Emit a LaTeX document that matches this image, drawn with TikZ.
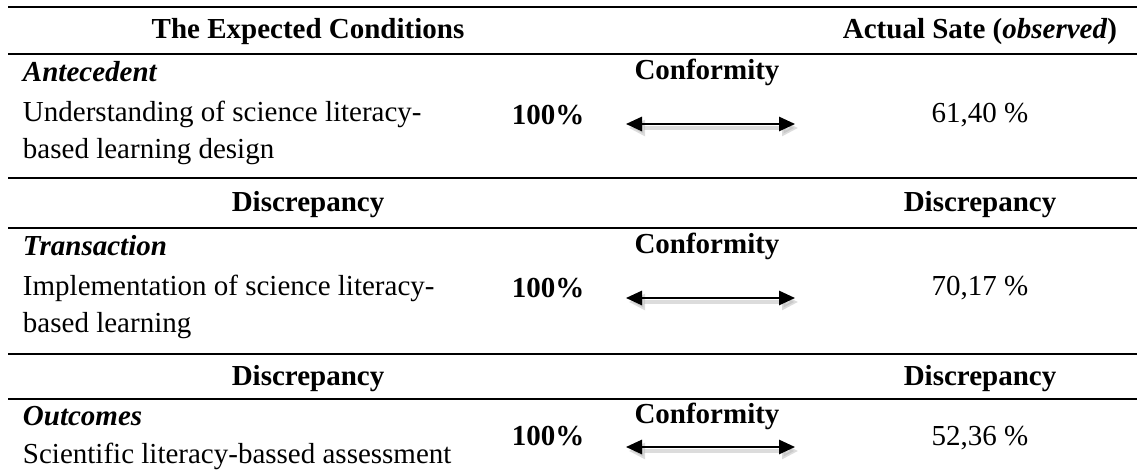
\documentclass[tikz,border=0pt]{standalone}
\usepackage{fontspec}
\setmainfont{Liberation Serif}
\usetikzlibrary{arrows.meta}
\begin{document}
\begin{tikzpicture}[x=0.35pt,y=-0.35pt,
  txt/.style={inner sep=0pt,outer sep=0pt,font=\fontsize{10.15}{12}\selectfont},
  lft/.style={txt,anchor=base west},
  ctr/.style={txt,anchor=base},
  rulel/.style={line width=0.8pt,black},
  conf/.style={line width=0.7pt,black,{Triangle[length=5.6pt,width=5pt]}-{Triangle[length=5.6pt,width=5pt]}},
  confshadow/.style={line width=1.2pt,black!30,opacity=0.45,{Triangle[length=5.6pt,width=5.5pt]}-{Triangle[length=5.6pt,width=5.5pt]}}
]
\useasboundingbox (0,0) rectangle (1137,475);
% rules
\draw[rulel] (8,7) -- (1137,7);
\draw[rulel] (8,54) -- (1137,54);
\draw[rulel] (8,178) -- (1137,178);
\draw[rulel] (8,228) -- (1137,228);
\draw[rulel] (8,354) -- (1137,354);
\draw[rulel] (8,399) -- (1137,399);
% header
\node[ctr] (hexp) at (308,39) {\textbf{The Expected Conditions}};
\node[ctr] (hact) at (980,39) {\textbf{Actual Sate (\textit{observed})}};
% block 1
\node[lft] (ant) at (23,82) {\textbf{\textit{Antecedent}}};
\node[lft] (ant1) at (23,122) {Understanding of science literacy-};
\node[lft] (ant2) at (23,159) {based learning design};
\node[ctr] (p1) at (548,125) {\textbf{100\%}};
\node[ctr] (c1) at (707,80) {\textbf{Conformity}};
\node[ctr] (v1) at (980,123) {61,40 \%};
\coordinate (a1l) at (626,124);
\coordinate (a1r) at (795,124);
\draw[confshadow] ([shift={(3,4)}]a1l) -- ([shift={(3,4)}]a1r);
\draw[conf] (a1l) -- (a1r);
% discrepancy 1
\node[ctr] (d1l) at (308,212) {\textbf{Discrepancy}};
\node[ctr] (d1r) at (980,212) {\textbf{Discrepancy}};
% block 2
\node[lft] (tra) at (23,256) {\textbf{\textit{Transaction}}};
\node[lft] (tra1) at (23,296) {Implementation of science literacy-};
\node[lft] (tra2) at (23,333) {based learning};
\node[ctr] (p2) at (548,298) {\textbf{100\%}};
\node[ctr] (c2) at (707,254) {\textbf{Conformity}};
\node[ctr] (v2) at (980,296) {70,17 \%};
\coordinate (a2l) at (626,298);
\coordinate (a2r) at (795,298);
\draw[confshadow] ([shift={(3,4)}]a2l) -- ([shift={(3,4)}]a2r);
\draw[conf] (a2l) -- (a2r);
% discrepancy 2
\node[ctr] (d2l) at (308,385) {\textbf{Discrepancy}};
\node[ctr] (d2r) at (980,385) {\textbf{Discrepancy}};
% block 3
\node[lft] (out) at (23,425) {\textbf{\textit{Outcomes}}};
\node[lft] (out1) at (23,464) {Scientific literacy-bassed assessment};
\node[ctr] (p3) at (548,445) {\textbf{100\%}};
\node[ctr] (c3) at (707,424) {\textbf{Conformity}};
\node[ctr] (v3) at (980,445) {52,36 \%};
\coordinate (a3l) at (626,447);
\coordinate (a3r) at (795,447);
\draw[confshadow] ([shift={(3,4)}]a3l) -- ([shift={(3,4)}]a3r);
\draw[conf] (a3l) -- (a3r);
\end{tikzpicture}
\end{document}
